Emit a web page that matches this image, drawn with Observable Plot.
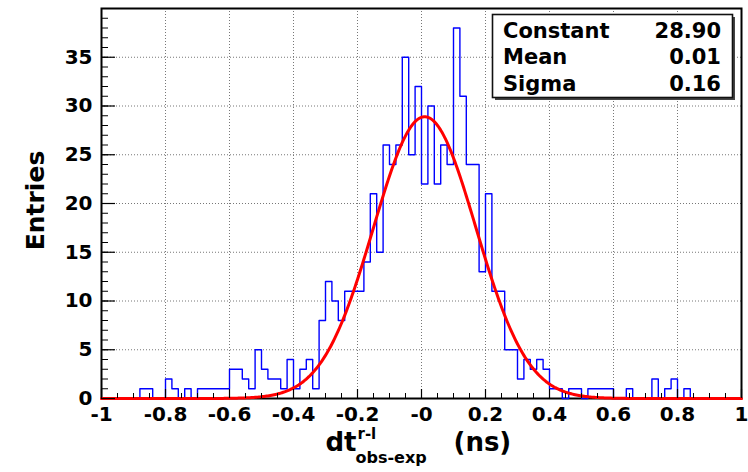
<!DOCTYPE html>
<html><head><meta charset="utf-8">
<script src="https://cdn.jsdelivr.net/npm/d3@7"></script>
<script src="https://cdn.jsdelivr.net/npm/@observablehq/plot@0.6"></script>
<style>
html,body{margin:0;padding:0;background:#fff;}
#chart{width:748px;height:472px;}
</style></head><body><div id="chart"></div>
<script>
// Histogram: 100 bins of width 0.02 from -1 to 1
const binLow = -1, binHigh = 1, binWidth = 0.02;
const counts = [
  0,0,0,0,0,0,1,1,0,0,
  2,1,0,1,0,1,1,1,1,1,
  3,3,2,1,5,3,2,2,1,4,
  1,3,4,1,8,12,10,8,11,11,
  11,14,21,15,26,24,26,35,25,32,
  22,30,22,26,24,38,31,24,24,13,
  21,11,11,5,5,2,4,3,4,3,
  1,1,0,1,1,0,1,1,1,1,
  0,0,1,0,0,0,2,0,1,2,
  0,1,0,0,0,0,0,0,0,0
];
// Gaussian fit parameters (from the stats box)
const statNames = ["Constant", "Mean", "Sigma"];
const statValues = ["28.90", "0.01", "0.16"];
const fitConstant = 28.90, fitMean = 0.01, fitSigma = 0.16;

const xTicks = [-1, -0.8, -0.6, -0.4, -0.2, 0, 0.2, 0.4, 0.6, 0.8, 1];
const xTickLabels = ["-1", "-0.8", "-0.6", "-0.4", "-0.2", "-0", "0.2", "0.4", "0.6", "0.8", "1"];
const xGridTicks = [-0.8, -0.6, -0.4, -0.2, 0, 0.2, 0.4, 0.6, 0.8];
const xMinorTicks = d3.range(0, 41).map(i => -1 + i * 0.05);
const yTicks = [0, 5, 10, 15, 20, 25, 30, 35];
const yGridTicks = [5, 10, 15, 20, 25, 30, 35];
const yMinorTicks = d3.range(0, 40);

const W = 748, H = 472, mL = 101, mR = 7, mT = 8, mB = 74;
const plotW = W - mL - mR, plotH = H - mT - mB;

const steps = counts.map((c, i) => ({x: binLow + i * binWidth, y: c}))
  .concat([{x: binHigh, y: counts[counts.length - 1]}]);
const fitPts = d3.range(0, 501).map(i => {
  const x = binLow + i * (binHigh - binLow) / 500;
  return {x, y: fitConstant * Math.exp(-0.5 * ((x - fitMean) / fitSigma) ** 2)};
});

const FONT = "'DejaVu Sans', 'Liberation Sans', sans-serif";
const chart = Plot.plot({
  width: W, height: H,
  marginLeft: mL, marginRight: mR, marginTop: mT, marginBottom: mB,
  style: {fontFamily: FONT, fontWeight: "bold", fontSize: "20px", background: "white", color: "black"},
  x: {domain: [-1, 1], label: null},
  y: {domain: [0, 40], label: null},
  marks: [
    Plot.gridX(xGridTicks, {stroke: "#777", strokeOpacity: 1, strokeDasharray: "1,2", strokeWidth: 1}),
    Plot.gridY(yGridTicks, {stroke: "#777", strokeOpacity: 1, strokeDasharray: "1,2", strokeWidth: 1}),
    Plot.frame({stroke: "black", strokeWidth: 2}),
    Plot.line(steps, {x: "x", y: "y", curve: "step-after", stroke: "#0000ff", strokeWidth: 1.4}),
    Plot.line(fitPts, {x: "x", y: "y", stroke: "#ff0000", strokeWidth: 3}),
    Plot.tickY(yMinorTicks, {y: d => d, stroke: "black", strokeWidth: 1, insetRight: plotW - 7}),
    Plot.tickY(yTicks, {y: d => d, stroke: "black", strokeWidth: 1.2, insetRight: plotW - 14}),
    Plot.tickX(xMinorTicks, {x: d => d, stroke: "black", strokeWidth: 1, insetTop: plotH - 5}),
    Plot.tickX(xTicks, {x: d => d, stroke: "black", strokeWidth: 1.2, insetTop: plotH - 9}),
    Plot.axisY(yTicks, {tickSize: 0, tickPadding: 9, fontSize: 20, label: null}),
    Plot.axisX(xTicks, {tickSize: 0, tickPadding: 8, fontSize: 20, label: null,
      tickFormat: d => xTickLabels[xTicks.findIndex(t => Math.abs(t - d) < 1e-9)]}),
    // axis titles
    Plot.text(["Entries"], {frameAnchor: "left", text: d => d, rotate: -90, dx: -66, dy: -3,
      fontSize: 25, textAnchor: "middle", lineAnchor: "middle"}),
    Plot.text(["dt"], {frameAnchor: "bottom-left", text: d => d, dx: 325 - mL, dy: 52,
      fontSize: 26, textAnchor: "start", lineAnchor: "bottom"}),
    Plot.text(["r-l"], {frameAnchor: "bottom-left", text: d => d, dx: 357 - mL, dy: 40,
      fontSize: 15, textAnchor: "start", lineAnchor: "bottom"}),
    Plot.text(["obs-exp"], {frameAnchor: "bottom-left", text: d => d, dx: 355 - mL, dy: 64,
      fontSize: 16, textAnchor: "start", lineAnchor: "bottom"}),
    Plot.text(["(ns)"], {frameAnchor: "bottom-left", text: d => d, dx: 453 - mL, dy: 52,
      fontSize: 26, textAnchor: "start", lineAnchor: "bottom"})
  ]
});
document.getElementById("chart").appendChild(chart);

// Stats box
const svg = d3.select(chart);
const g = svg.append("g");
g.append("rect").attr("x", 495).attr("y", 17).attr("width", 240).attr("height", 83).attr("fill", "#444");
g.append("rect").attr("x", 492.5).attr("y", 14.5).attr("width", 240).attr("height", 83)
  .attr("fill", "white").attr("stroke", "#111").attr("stroke-width", 1.6);
const baselines = [37.5, 64.2, 90.8];
statNames.forEach((n, i) => {
  g.append("text").attr("x", 503).attr("y", baselines[i]).attr("font-size", 21)
    .attr("text-anchor", "start")
    .attr("font-family", FONT).attr("font-weight", "bold").attr("fill", "black").text(n);
  g.append("text").attr("x", 721).attr("y", baselines[i]).attr("font-size", 21)
    .attr("text-anchor", "end").attr("font-family", FONT).attr("font-weight", "bold").attr("fill", "black").text(statValues[i]);
});
</script></body></html>
